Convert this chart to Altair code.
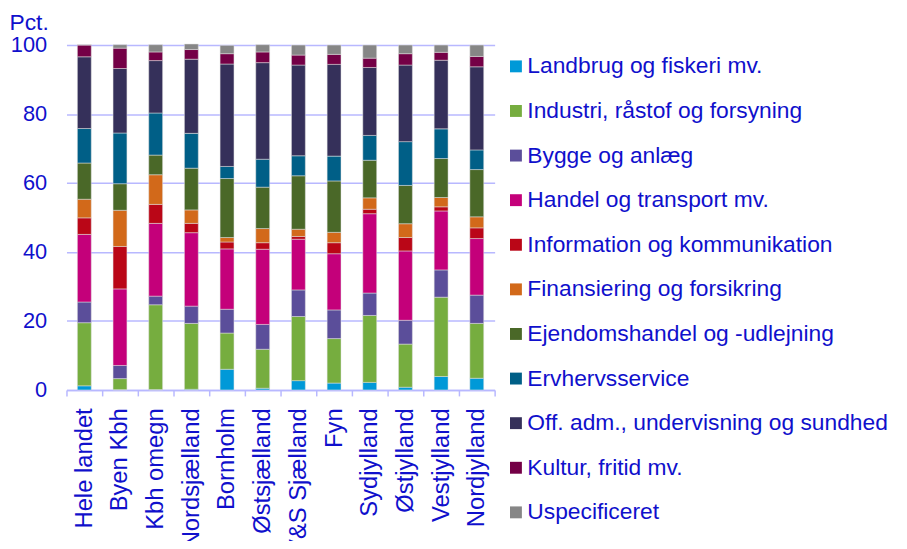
import altair as alt
import pandas as pd

regions = ["Hele landet", "Byen Kbh", "Kbh omegn", "Nordsjælland", "Bornholm",
           "Østsjælland", "V&S Sjælland", "Fyn", "Sydjylland", "Østjylland",
           "Vestjylland", "Nordjylland"]

series = ["Landbrug og fiskeri mv.", "Industri, råstof og forsyning", "Bygge og anlæg",
          "Handel og transport mv.", "Information og kommunikation",
          "Finansiering og forsikring", "Ejendomshandel og -udlejning", "Ervhervsservice",
          "Off. adm., undervisning og sundhed", "Kultur, fritid mv.", "Uspecificeret"]

colors = ["#0099D8", "#76AD3F", "#5B4E9A", "#C4007A", "#BA0617", "#D2691A",
          "#4A6828", "#005F87", "#35305A", "#740046", "#868686"]

landbrug = [1.2, 0.1, 0.1, 0.2, 6.0, 0.5, 2.7, 2.0, 2.2, 0.8, 3.9, 3.4]
industri = [18.3, 3.2, 24.6, 19.1, 10.5, 11.3, 18.6, 12.9, 19.4, 12.5, 23.0, 15.9]
bygge = [6.0, 3.8, 2.5, 5.0, 6.9, 7.2, 7.7, 8.3, 6.5, 6.9, 7.9, 8.2]
handel = [19.6, 22.2, 21.1, 21.3, 17.5, 21.8, 14.7, 16.3, 23.0, 20.1, 17.1, 16.4]
info = [4.8, 12.3, 5.5, 2.7, 2.0, 1.9, 0.8, 3.2, 1.3, 3.9, 1.2, 3.1]
finans = [5.4, 10.5, 8.6, 3.9, 1.3, 4.1, 2.1, 3.0, 3.3, 4.0, 2.7, 3.2]
ejendom = [10.5, 7.7, 5.7, 12.1, 17.1, 12.0, 15.5, 14.9, 10.9, 11.1, 11.3, 13.7]
erhverv = [10.0, 14.7, 12.2, 10.1, 3.5, 8.1, 5.8, 7.2, 7.2, 12.7, 8.6, 5.7]
offentlig = [20.8, 18.7, 15.2, 21.5, 29.7, 28.0, 26.3, 26.6, 19.7, 22.2, 19.9, 24.1]
kultur = [3.4, 5.9, 2.5, 2.8, 3.0, 3.1, 2.9, 2.9, 2.7, 3.3, 2.3, 3.0]
uspec = [0.1, 1.0, 2.1, 1.6, 2.4, 2.1, 2.9, 2.7, 3.8, 2.5, 2.1, 3.3]

values = [landbrug, industri, bygge, handel, info, finans, ejendom, erhverv,
          offentlig, kultur, uspec]

rows = []
for si, (name, vals) in enumerate(zip(series, values)):
    for region, v in zip(regions, vals):
        rows.append({"region": region, "serie": name, "idx": si, "pct": v})
df = pd.DataFrame(rows)

TXT = "#1010CC"
GRID = "#B8B8FF"
FONT = "Liberation Sans"

chart = alt.Chart(df).mark_bar(size=14, stroke="#E0E0E0", strokeWidth=0.5).encode(
    x=alt.X("region:N", sort=regions, title=None,
            scale=alt.Scale(paddingInner=0, paddingOuter=0),
            axis=alt.Axis(labelAngle=270, labelAlign="right", labelBaseline="middle",
                          labelFontSize=24, labelColor=TXT, labelFont=FONT,
                          labelPadding=12, tickBand="extent", tickSize=6,
                          tickColor=GRID, tickWidth=1.5, domainColor=GRID,
                          domainWidth=1.5, grid=False)),
    y=alt.Y("pct:Q", stack="zero", title="Pct.",
            scale=alt.Scale(domain=[0, 100], nice=False),
            axis=alt.Axis(values=[0, 20, 40, 60, 80, 100], labelFontSize=22,
                          labelColor=TXT, labelFont=FONT, labelPadding=20,
                          ticks=False, domain=False, gridColor=GRID, gridWidth=1.5,
                          gridOpacity=1, titleAngle=0, titleAlign="left",
                          titleBaseline="alphabetic", titleX=-58, titleY=-16,
                          titleFontSize=23, titleFont=FONT, titleColor=TXT,
                          titleFontWeight="normal")),
    color=alt.Color("serie:N", sort=series,
                    scale=alt.Scale(domain=series, range=colors),
                    legend=alt.Legend(title=None, orient="none", legendX=442, legendY=10,
                                      symbolType="square", symbolSize=144,
                                      symbolStrokeWidth=0, labelFontSize=23,
                                      labelFont=FONT, labelColor=TXT, labelOffset=0,
                                      rowPadding=21, padding=0, labelLimit=500)),
    order=alt.Order("idx:Q", sort="ascending"),
).properties(
    width=432, height=348,
    padding={"left": 59, "top": 35, "right": 408, "bottom": 150},
    autosize=alt.AutoSizeParams(type="none"),
).configure_view(stroke=None)

chart.save("out.html", embed_options={"renderer": "svg", "actions": False})
